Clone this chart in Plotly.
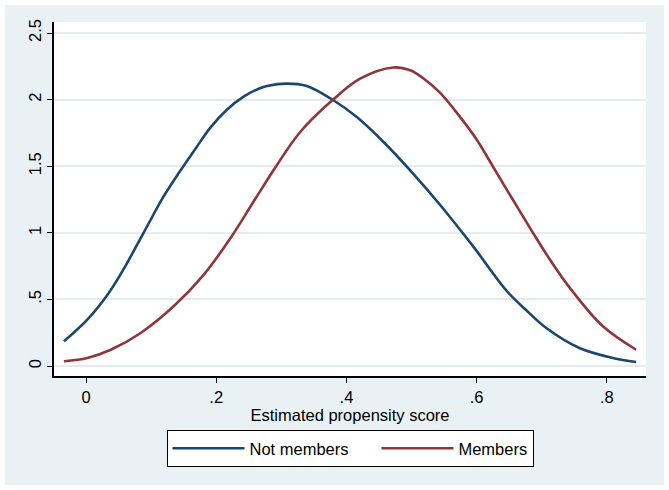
import plotly.graph_objects as go

# Kernel density estimates
not_members_x = [-0.034, 0.002, 0.033, 0.057, 0.088, 0.119, 0.144, 0.170, 0.191, 0.216,
                 0.242, 0.267, 0.278, 0.308, 0.339, 0.380, 0.416, 0.457, 0.498, 0.544,
                 0.595, 0.646, 0.676, 0.707, 0.758, 0.809, 0.845]
not_members_y = [0.185, 0.348, 0.535, 0.721, 0.996, 1.271, 1.460, 1.645, 1.790, 1.922,
                 2.022, 2.085, 2.102, 2.120, 2.102, 1.995, 1.869, 1.682, 1.469, 1.209,
                 0.896, 0.565, 0.420, 0.285, 0.135, 0.060, 0.030]

members_x = [-0.034, 0.002, 0.038, 0.084, 0.135, 0.180, 0.222, 0.257, 0.293, 0.329,
             0.380, 0.421, 0.472, 0.498, 0.518, 0.544, 0.5745, 0.600, 0.626, 0.656,
             0.687, 0.713, 0.7435, 0.794, 0.845]
members_y = [0.035, 0.060, 0.122, 0.248, 0.450, 0.680, 0.961, 1.231, 1.507, 1.757,
             2.002, 2.157, 2.241, 2.220, 2.160, 2.050, 1.870, 1.700, 1.490, 1.246,
             0.996, 0.796, 0.585, 0.298, 0.122]

x_tickvals = [0, 0.2, 0.4, 0.6, 0.8]
x_ticktext = ["0", ".2", ".4", ".6", ".8"]
y_tickvals = [0, 0.5, 1, 1.5, 2, 2.5]
y_ticktext = ["0", ".5", "1", "1.5", "2", "2.5"]

W, H = 669, 490
L, R, T, B = 54, 23, 22, 114
PW, PH = W - L - R, H - T - B
font = "Liberation Sans, Arial, sans-serif"
gap = "\u00a0" * 5  # extra room between legend entries, as in the Stata legend

fig = go.Figure()

fig.add_trace(go.Scatter(
    x=not_members_x, y=not_members_y, name="Not members" + gap,
    mode="lines", line=dict(color="#1a476f", width=2.6, shape="spline", smoothing=1.0),
))
fig.add_trace(go.Scatter(
    x=members_x, y=members_y, name="Members",
    mode="lines", line=dict(color="#90353b", width=2.6, shape="spline", smoothing=1.0),
))

# white outer border around the bluish graph region
fig.add_shape(
    type="rect", xref="paper", yref="paper",
    x0=-L / PW, x1=(W - L) / PW,
    y0=-B / PH, y1=(H - B) / PH,
    line=dict(color="white", width=10), fillcolor="rgba(0,0,0,0)", layer="below",
)

fig.update_layout(
    width=W, height=H,
    margin=dict(l=L, r=R, t=T, b=B, autoexpand=False),
    paper_bgcolor="#eaf1f4",
    plot_bgcolor="white",
    font=dict(family=font, size=16.5, color="black"),
    showlegend=True,
    legend=dict(
        orientation="h", x=0.5, xanchor="center", y=-0.1525, yanchor="top",
        bgcolor="white", bordercolor="black", borderwidth=1,
        itemwidth=72, font=dict(size=16.5), traceorder="normal",
    ),
    xaxis=dict(
        range=[-0.0492, 0.8602], tickvals=x_tickvals, ticktext=x_ticktext,
        showgrid=False, zeroline=False, showline=True, linecolor="black", linewidth=1.5,
        ticks="outside", ticklen=5, tickcolor="black",
        title=dict(text="Estimated propensity score", standoff=4, font=dict(size=16.5)),
    ),
    yaxis=dict(
        range=[-0.0751, 2.5826], tickvals=y_tickvals, ticktext=y_ticktext,
        showgrid=True, gridcolor="#e6ebed", gridwidth=1.5, zeroline=False,
        showline=True, linecolor="black", linewidth=1.5,
        ticks="outside", ticklen=5, tickcolor="black", tickangle=-90,
    ),
)

fig.write_html("out.html", config={"displayModeBar": False},
               post_script="document.body.style.margin='0';")
